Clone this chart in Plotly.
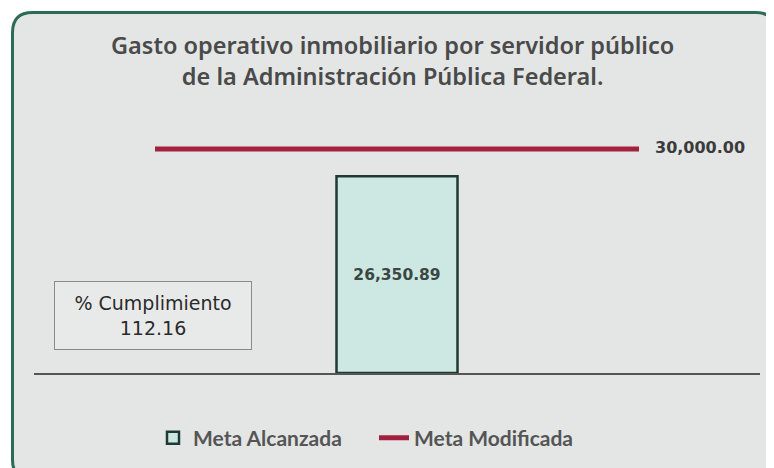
import plotly.graph_objects as go

# ---- data ----
bar_categories = [0]
bar_names = "Meta Alcanzada"
meta_alcanzada = [26350.89]
line_name = "Meta Modificada"
meta_modificada = [30000.00, 30000.00]
line_x = [-2, 2]
line_labels = ["", "30,000.00"]
cumplimiento_label = "% Cumplimiento"
cumplimiento_value = "112.16"
title_lines = ["Gasto operativo inmobiliario por servidor público",
               "de la Administración Pública Federal."]

# ---- geometry (screen px of the reference; the page body adds an 8px offset) ----
W, H = 774, 468
OFF = 8
ML, MR, MT, MB = 26, 22, 122, 103
PW = W - ML - MR
PH = H - MT - MB
Y_TOP = 30000 * PH / 224.0


def px(x):
    return (x - OFF - ML) / PW


def py(y):
    return (H - MB - (y - OFF)) / PH


fig = go.Figure()

fig.add_trace(go.Bar(
    x=bar_categories, y=meta_alcanzada, width=[1], name=bar_names,
    marker=dict(color="#cde8e2", line=dict(color="#1f3a33", width=2.5)),
    texttemplate="%{y:,.2f}", textposition="inside", insidetextanchor="middle",
    textfont=dict(family="DejaVu Sans", size=15.5, color="#3b4743", weight="bold"),
    hoverinfo="skip",
))

fig.add_trace(go.Scatter(
    x=line_x, y=meta_modificada, name=line_name, mode="lines+markers+text",
    line=dict(color="#a3203f", width=5),
    marker=dict(size=24, color="rgba(0,0,0,0)"),
    text=line_labels, textposition="middle right",
    textfont=dict(family="DejaVu Sans", size=16, color="#3b3b3b", weight="bold"),
    hoverinfo="skip",
))

# rounded outer frame
L, T, R, B, r = 12.5, 12.5, 775.5, 480, 20
path = (f"M {px(L + r)},{py(T)} L {px(R - r)},{py(T)} Q {px(R)},{py(T)} {px(R)},{py(T + r)} "
        f"L {px(R)},{py(B - r)} Q {px(R)},{py(B)} {px(R - r)},{py(B)} "
        f"L {px(L + r)},{py(B)} Q {px(L)},{py(B)} {px(L)},{py(B - r)} "
        f"L {px(L)},{py(T + r)} Q {px(L)},{py(T)} {px(L + r)},{py(T)} Z")

title_font = dict(family="Noto Sans", size=23.5, color="#4a4a4a", weight=600)

fig.update_layout(
    width=W, height=H,
    margin=dict(l=ML, r=MR, t=MT, b=MB),
    paper_bgcolor="white", plot_bgcolor="rgba(0,0,0,0)",
    shapes=[dict(type="path", path=path, xref="paper", yref="paper",
                 fillcolor="#e3e6e5", line=dict(color="#2e6b57", width=3), layer="below")],
    xaxis=dict(range=[-3, 3], showgrid=False, zeroline=False, showticklabels=False,
               ticks="", showline=True, linecolor="#555555", linewidth=2, fixedrange=True),
    yaxis=dict(range=[0, Y_TOP], showgrid=False, zeroline=False, showticklabels=False,
               ticks="", showline=False, fixedrange=True),
    showlegend=True,
    legend=dict(orientation="h", x=px(153), xanchor="left", y=py(438), yanchor="middle",
                font=dict(family="Lato", size=21, color="#555555", weight="bold"),
                bgcolor="rgba(0,0,0,0)", itemwidth=30, entrywidth=176,
                entrywidthmode="pixels"),
    annotations=[
        dict(text="<br>".join(title_lines), x=px(392), y=py(60), xref="paper", yref="paper",
             showarrow=False, xanchor="center", yanchor="middle", font=title_font),
        dict(text=f"{cumplimiento_label}<br>{cumplimiento_value}", x=px(153), y=py(315.5),
             xref="paper", yref="paper", showarrow=False, xanchor="center", yanchor="middle",
             width=194, height=65, bgcolor="#e8eaea", bordercolor="#8a8a8a", borderwidth=1,
             font=dict(family="DejaVu Sans", size=19, color="#2a2a2a")),
    ],
)

fig.write_html("out.html")
